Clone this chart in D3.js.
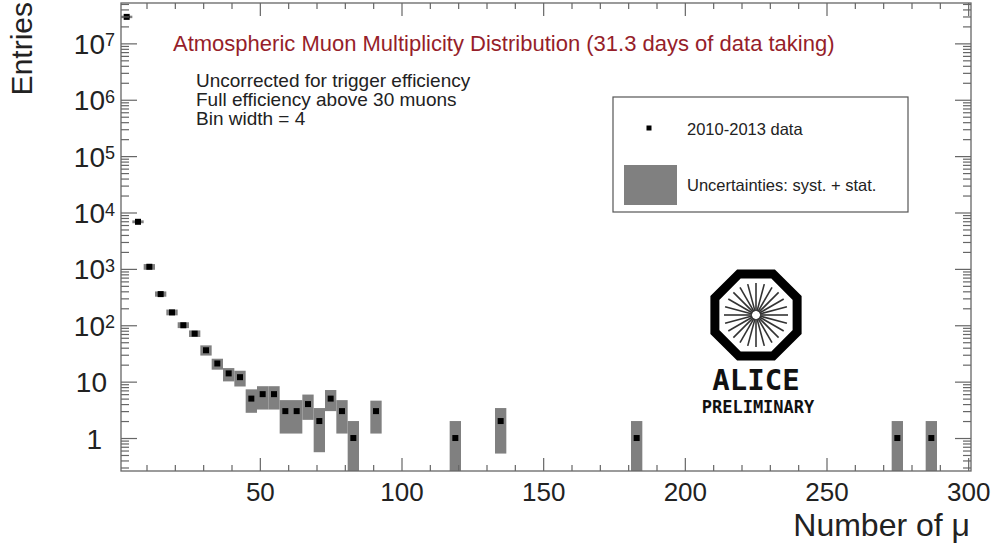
<!DOCTYPE html>
<html lang="en">
<head>
  <meta charset="UTF-8">
  <title>Atmospheric Muon Multiplicity Distribution</title>
  <script src="https://d3js.org/d3.v7.min.js"></script>
  <style>
    body { margin: 0; background: #fff; }
    svg { font-family: "Liberation Sans", Arial, sans-serif; display: block; }
    .axis line { stroke: #666; stroke-width: 1.2; }
    .axis path { display: none; }
    .axis text { fill: #222; }
  </style>
</head>
<body>
<div id="chart"></div>
<script>
// bin centres (bin width = 4) and entries
const binCenters = [3, 7, 11, 15, 19, 23, 27, 31, 35, 39, 43, 47, 51, 55, 59, 63, 67, 71, 75, 79, 83, 91, 119, 135, 183, 275, 287];
const entries    = [2.95e7, 6840, 1090, 357, 169, 100, 71, 36, 21, 14, 12, 5, 6, 6, 3, 3, 4, 2, 5, 3, 1, 3, 1, 2, 1, 1, 1];
// syst. + stat. uncertainty band (low / high edge)
const uncLow  = [2.8e7, 6450, 964, 321, 150, 89, 62, 29, 16.3, 10.1, 8.2, 2.8, 3.2, 3.2, 1.2, 1.2, 2.1, 0.56, 3.0, 1.2, 0.1, 1.2, 0.1, 0.53, 0.1, 0.1, 0.1];
const uncHigh = [3.1e7, 7250, 1217, 398, 190, 113, 81, 44, 25.5, 17.4, 15.6, 7.3, 8.3, 8.3, 4.7, 4.7, 5.9, 3.4, 7.1, 4.7, 2.0, 4.6, 2.0, 3.4, 2.0, 2.0, 2.0];
const binWidth = 4;

const xMajor = [50, 100, 150, 200, 250, 300];
const yMajor = [1, 10, 1e2, 1e3, 1e4, 1e5, 1e6, 1e7];
const noteLines = ["Uncorrected for trigger efficiency", "Full efficiency above 30 muons", "Bin width = 4"];

const W = 994, H = 546;
const margin = {top: 3, right: 23, bottom: 75, left: 121};

const svg = d3.select("#chart").append("svg").attr("width", W).attr("height", H);

const x = d3.scaleLinear().domain([1, 301]).range([margin.left, W - margin.right]);
const y = d3.scaleLog().domain([0.26, 5.2e7]).range([H - margin.bottom, margin.top]);

const x0 = x.range()[0], x1 = x.range()[1], y0 = y.range()[0], y1 = y.range()[1];

svg.append("clipPath").attr("id", "plot-clip")
  .append("rect").attr("x", x0).attr("y", y1).attr("width", x1 - x0).attr("height", y0 - y1);

// minor tick values
const xMinor = d3.range(10, 301, 10).filter(v => v % 50 !== 0);
const yMinor = [];
for (let k = -1; k <= 7; k++) for (let m = 2; m <= 9; m++) {
  const v = m * Math.pow(10, k);
  if (v >= y.domain()[0] && v <= y.domain()[1]) yMinor.push(v);
}

// uncertainty boxes
const pts = binCenters.map((c, i) => ({c, v: entries[i], lo: uncLow[i], hi: uncHigh[i]}));
const plot = svg.append("g").attr("clip-path", "url(#plot-clip)");
plot.selectAll(".unc").data(pts).enter().append("rect")
  .attr("class", "unc")
  .attr("x", d => x(d.c - binWidth / 2))
  .attr("width", d => x(d.c + binWidth / 2) - x(d.c - binWidth / 2))
  .attr("y", d => y(d.hi))
  .attr("height", d => y(d.lo) - y(d.hi))
  .attr("fill", "#808080");

plot.selectAll(".pt").data(pts).enter().append("rect")
  .attr("class", "pt")
  .attr("x", d => x(d.c) - 3)
  .attr("y", d => y(d.v) - 3)
  .attr("width", 6).attr("height", 6)
  .attr("fill", "#000");

// axes
svg.append("g").attr("class", "axis").attr("transform", `translate(0,${y0})`)
  .call(d3.axisBottom(x).tickValues(xMajor).tickSize(-13).tickPadding(12).tickFormat(d3.format("d")))
  .selectAll("text").style("font-size", "26px");
svg.append("g").attr("class", "axis").attr("transform", `translate(0,${y0})`)
  .call(d3.axisBottom(x).tickValues(xMinor).tickSize(-6).tickFormat(""));
svg.append("g").attr("class", "axis").attr("transform", `translate(0,${y1})`)
  .call(d3.axisTop(x).tickValues(xMajor).tickSize(-13).tickFormat(""));
svg.append("g").attr("class", "axis").attr("transform", `translate(0,${y1})`)
  .call(d3.axisTop(x).tickValues(xMinor).tickSize(-6).tickFormat(""));

const yAx = svg.append("g").attr("class", "axis").attr("transform", `translate(${x0},0)`)
  .call(d3.axisLeft(y).tickValues(yMajor).tickSize(-16).tickPadding(12).tickFormat(d => d));
yAx.selectAll("text").style("font-size", "28px").attr("dy", "0.36em")
  .attr("x", d => d >= 100 ? -6 : (d === 10 ? -14 : -19))
  .each(function(d) {
    const e = Math.round(Math.log10(d));
    const t = d3.select(this).text(null);
    if (e <= 1) { t.text(e === 0 ? "1" : "10"); return; }
    t.append("tspan").text("10");
    t.append("tspan").attr("dy", "-0.42em").style("font-size", "18px").text(e);
  });
svg.append("g").attr("class", "axis").attr("transform", `translate(${x0},0)`)
  .call(d3.axisLeft(y).tickValues(yMinor).tickSize(-8).tickFormat(""));
svg.append("g").attr("class", "axis").attr("transform", `translate(${x1},0)`)
  .call(d3.axisRight(y).tickValues(yMajor).tickSize(-16).tickFormat(""));
svg.append("g").attr("class", "axis").attr("transform", `translate(${x1},0)`)
  .call(d3.axisRight(y).tickValues(yMinor).tickSize(-8).tickFormat(""));

// frame
svg.append("rect").attr("x", x0).attr("y", y1).attr("width", x1 - x0).attr("height", y0 - y1)
  .attr("fill", "none").attr("stroke", "#666").attr("stroke-width", 1.3);

// axis titles
svg.append("text").attr("transform", "translate(32,2) rotate(-90)")
  .attr("text-anchor", "end").style("font-size", "30px").attr("fill", "#222").text("Entries");
svg.append("text").attr("x", 970).attr("y", 536)
  .attr("text-anchor", "end").style("font-size", "32px").attr("fill", "#222").text("Number of μ");

// title and notes
svg.append("text").attr("x", 173).attr("y", 51).style("font-size", "22px").attr("fill", "#961e2a")
  .text("Atmospheric Muon Multiplicity Distribution (31.3 days of data taking)");
svg.append("g").selectAll("text").data(noteLines).enter().append("text")
  .attr("x", 196).attr("y", (d, i) => 87 + i * 19)
  .style("font-size", "19px").attr("fill", "#222").text(d => d);

// legend
const lg = svg.append("g");
lg.append("rect").attr("x", 613).attr("y", 97).attr("width", 295).attr("height", 115)
  .attr("fill", "#fff").attr("stroke", "#555").attr("stroke-width", 1.2);
lg.append("rect").attr("x", 646.5).attr("y", 125.5).attr("width", 5).attr("height", 5).attr("fill", "#000");
lg.append("text").attr("x", 687).attr("y", 135).style("font-size", "16.5px").attr("fill", "#222").text("2010-2013 data");
lg.append("rect").attr("x", 624).attr("y", 165).attr("width", 53).attr("height", 40).attr("fill", "#808080");
lg.append("text").attr("x", 687).attr("y", 191).style("font-size", "16.5px").attr("fill", "#222").text("Uncertainties: syst. + stat.");

// ALICE logo
const logo = svg.append("g").attr("transform", "translate(756,315)");
const rV = 44.5;
const oct = d3.range(8).map(i => {
  const a = Math.PI / 8 + i * Math.PI / 4;
  return [rV * Math.cos(a), rV * Math.sin(a)];
});
logo.append("path").attr("d", d3.line()(oct) + "Z")
  .attr("fill", "none").attr("stroke", "#000").attr("stroke-width", 9).attr("stroke-linejoin", "miter");
logo.selectAll("line").data(d3.range(24)).enter().append("line")
  .attr("x1", d => 4 * Math.cos(d * Math.PI / 12)).attr("y1", d => 4 * Math.sin(d * Math.PI / 12))
  .attr("x2", d => 32 * Math.cos(d * Math.PI / 12)).attr("y2", d => 32 * Math.sin(d * Math.PI / 12))
  .attr("stroke", "#333").attr("stroke-width", 1.6);
svg.append("text").attr("x", 756).attr("y", 390).attr("text-anchor", "middle")
  .style("font-family", "'DejaVu Sans Mono', monospace").style("font-weight", "bold").style("font-size", "29px")
  .attr("fill", "#111").text("ALICE");
svg.append("text").attr("x", 758).attr("y", 413).attr("text-anchor", "middle")
  .style("font-family", "'DejaVu Sans Mono', monospace").style("font-weight", "bold").style("font-size", "17px")
  .attr("fill", "#111").text("PRELIMINARY");
</script>
</body>
</html>
